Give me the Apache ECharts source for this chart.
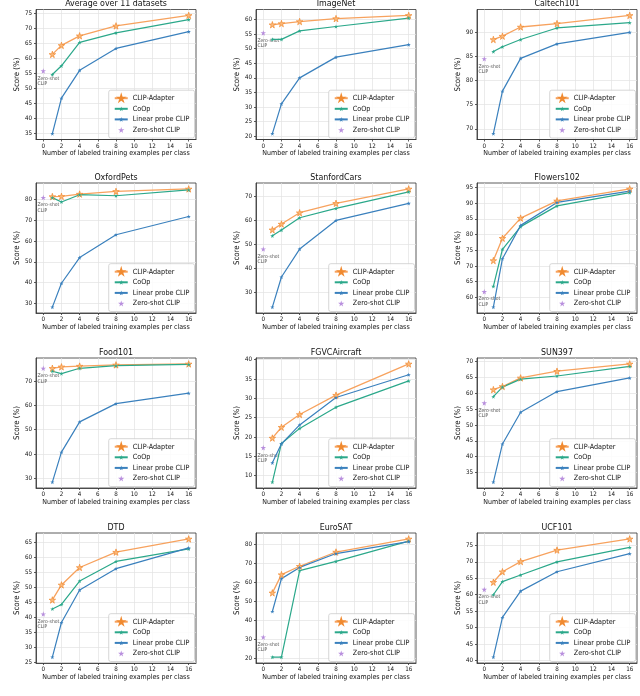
<!DOCTYPE html>
<html>
<head>
<meta charset="utf-8">
<script src="https://cdn.jsdelivr.net/npm/echarts@6/dist/echarts.min.js"></script>
<style>
html, body { margin: 0; padding: 0; background: #fff; }
#chart { width: 640px; height: 696px; }
</style>
</head>
<body>
<div id="chart"></div>
<script>
// panel titles, one per subplot (row by row)
const datasets = ['Average over 11 datasets', 'ImageNet', 'Caltech101', 'OxfordPets', 'StanfordCars', 'Flowers102',
    'Food101', 'FGVCAircraft', 'SUN397', 'DTD', 'EuroSAT', 'UCF101'];
const shots = [1, 2, 4, 8, 16];
const xTicks = [0, 2, 4, 6, 8, 10, 12, 14, 16];
const yStep = [5, 5, 5, 10, 10, 5, 10, 5, 5, 5, 10, 5];

const adapter = [
    [61.4, 64.4, 67.6, 70.9, 74.4],
    [58.2, 58.6, 59.3, 60.3, 61.4],
    [88.5, 89.2, 91.1, 91.8, 93.5],
    [81.5, 81.6, 82.7, 84.0, 85.2],
    [56.1, 58.5, 63.2, 67.1, 73.1],
    [71.7, 78.8, 85.2, 90.7, 94.5],
    [75.2, 75.8, 76.1, 76.6, 77.0],
    [19.7, 22.5, 25.8, 30.8, 38.9],
    [61.1, 62.1, 64.8, 66.9, 69.2],
    [45.7, 50.7, 56.5, 61.6, 66.0],
    [54.4, 64.0, 68.4, 75.9, 82.8],
    [63.8, 67.0, 70.1, 73.6, 77.0]
];
const coop = [
    [54.7, 57.6, 65.4, 68.6, 73.0],
    [53.2, 53.2, 56.1, 57.6, 60.5],
    [86.0, 87.0, 88.5, 90.9, 92.0],
    [81.0, 78.9, 82.4, 81.9, 84.7],
    [53.6, 56.0, 61.1, 65.0, 71.9],
    [63.5, 75.3, 82.5, 89.1, 93.3],
    [74.0, 73.0, 75.2, 76.3, 76.8],
    [8.3, 18.3, 22.2, 27.7, 34.5],
    [58.9, 61.9, 64.4, 65.4, 68.4],
    [42.7, 44.2, 52.0, 58.5, 62.7],
    [20.6, 20.6, 66.1, 71.0, 81.6],
    [60.0, 64.0, 66.0, 70.0, 74.4]
];
const linearProbe = [
    [35.0, 46.8, 56.1, 63.4, 69.0],
    [20.9, 31.1, 40.0, 47.1, 51.4],
    [69.0, 77.8, 84.6, 87.6, 90.0],
    [28.2, 39.7, 52.1, 63.1, 71.9],
    [24.0, 36.5, 48.1, 60.0, 67.1],
    [56.9, 72.3, 82.9, 90.2, 93.8],
    [28.5, 40.8, 53.2, 60.7, 65.0],
    [13.3, 18.2, 23.1, 30.2, 36.1],
    [32.0, 44.0, 54.0, 60.5, 64.8],
    [26.7, 38.2, 49.0, 56.1, 63.0],
    [44.6, 61.9, 67.8, 75.1, 81.4],
    [41.0, 53.1, 61.1, 67.0, 72.5]
];
const zeroShot = [55.9, 55.4, 84.5, 81.0, 48.1, 61.8, 75.2, 17.2, 56.9, 41.0, 31.1, 61.6];

const names = ['CLIP-Adapter', 'CoOp', 'Linear probe CLIP', 'Zero-shot CLIP'];
const font = "'DejaVu Sans Condensed', 'Liberation Sans', Arial, sans-serif";
const star = 'path://M50,0 L61,35 L98,35 L68,57 L79,91 L50,70 L21,91 L32,57 L2,35 L39,35 Z';

// subplot layout
const colLeft = [36, 256, 477];
const rowTop = [9.5, 183, 358, 533];
const plotW = 160, plotH = 130;

const chart = echarts.init(document.getElementById('chart'));

const grids = [], xAxes = [], yAxes = [], titles = [], legends = [], series = [];

datasets.forEach((title, i) => {
    const left = colLeft[i % 3];
    const top = rowTop[Math.floor(i / 3)];

    // matplotlib-like autoscale: data range with 5% margins
    const all = adapter[i].concat(coop[i], linearProbe[i], [zeroShot[i]]);
    const lo = Math.min(...all), hi = Math.max(...all);
    const pad = (hi - lo) * 0.05;
    const yMin = lo - pad, yMax = hi + pad;
    const yTicks = [];
    for (let v = Math.ceil(yMin / yStep[i]) * yStep[i]; v <= yMax; v += yStep[i]) yTicks.push(v);

    grids.push({
        left: left, top: top, width: plotW, height: plotH,
        show: true, borderColor: '#333', borderWidth: 0.8, backgroundColor: '#fff'
    });
    titles.push({
        text: title, left: left + plotW / 2, top: top - 10, textAlign: 'center', padding: 0,
        textStyle: { fontSize: 8.8, fontWeight: 'normal', color: '#111', fontFamily: font }
    });
    xAxes.push({
        gridIndex: i, type: 'value', min: -0.8, max: 16.8,
        name: 'Number of labeled training examples per class',
        nameLocation: 'middle', nameGap: 9.5,
        nameTextStyle: { fontSize: 7, color: '#111', fontFamily: font },
        axisLine: { show: true, onZero: false, lineStyle: { color: '#333', width: 0.8 } },
        axisTick: { show: true, length: 2, customValues: xTicks, lineStyle: { color: '#333', width: 0.8 } },
        axisLabel: { customValues: xTicks, fontSize: 6.2, margin: 3.5, color: '#111', fontFamily: font },
        splitLine: { show: true, lineStyle: { color: '#e2e2e2', width: 0.7 } }
    });
    yAxes.push({
        gridIndex: i, type: 'value', min: yMin, max: yMax,
        name: 'Score (%)', nameLocation: 'middle', nameGap: 11,
        nameTextStyle: { fontSize: 7.8, color: '#111', fontFamily: font },
        axisLine: { show: true, onZero: false, lineStyle: { color: '#333', width: 0.8 } },
        axisTick: { show: true, length: 2, customValues: yTicks, lineStyle: { color: '#333', width: 0.8 } },
        axisLabel: {
            customValues: yTicks, fontSize: 6.2, margin: 4, color: '#111', fontFamily: font,
            formatter: v => String(Math.round(v))
        },
        splitLine: { show: true, lineStyle: { color: '#e2e2e2', width: 0.7 } }
    });
    legends.push({
        data: names, orient: 'vertical', selectedMode: false,
        right: 640 - (left + plotW) + 1.5, bottom: 696 - (top + plotH) + 1.5,
        itemWidth: 13, itemHeight: 6, itemGap: 3.6, padding: [4.5, 5, 4.5, 5],
        backgroundColor: 'rgba(255,255,255,0.85)', borderColor: '#ccc', borderWidth: 0.8, borderRadius: 2,
        textStyle: { fontSize: 7.2, color: '#111', fontFamily: font }
    });

    const pts = arr => shots.map((s, k) => [s, arr[k]]);
    series.push({
        name: names[0], type: 'line', xAxisIndex: i, yAxisIndex: i, data: pts(adapter[i]),
        symbol: star, symbolSize: 6.5, color: '#f5934a',
        lineStyle: { color: '#f7a25e', width: 1.3 },
        itemStyle: { color: '#fbb97a', borderColor: '#f08a30', borderWidth: 0.7 }
    });
    series.push({
        name: names[1], type: 'line', xAxisIndex: i, yAxisIndex: i, data: pts(coop[i]),
        symbol: star, symbolSize: 4.2, color: '#2ba88a',
        lineStyle: { color: '#2ba88a', width: 1.2 }
    });
    series.push({
        name: names[2], type: 'line', xAxisIndex: i, yAxisIndex: i, data: pts(linearProbe[i]),
        symbol: star, symbolSize: 4.2, color: '#3a80bd',
        lineStyle: { color: '#3a80bd', width: 1.2 }
    });
    series.push({
        name: names[3], type: 'scatter', xAxisIndex: i, yAxisIndex: i, data: [[0, zeroShot[i]]],
        symbol: star, symbolSize: 5.5, color: '#a874d6',
        label: {
            show: true, formatter: 'Zero-shot\nCLIP', position: [-3, 7.5], align: 'left', verticalAlign: 'top',
            fontSize: 5, lineHeight: 5.5, color: '#222', fontFamily: font
        }
    });
});

chart.setOption({
    animation: false,
    backgroundColor: '#fff',
    title: titles,
    legend: legends,
    grid: grids,
    xAxis: xAxes,
    yAxis: yAxes,
    series: series
});
</script>
</body>
</html>
